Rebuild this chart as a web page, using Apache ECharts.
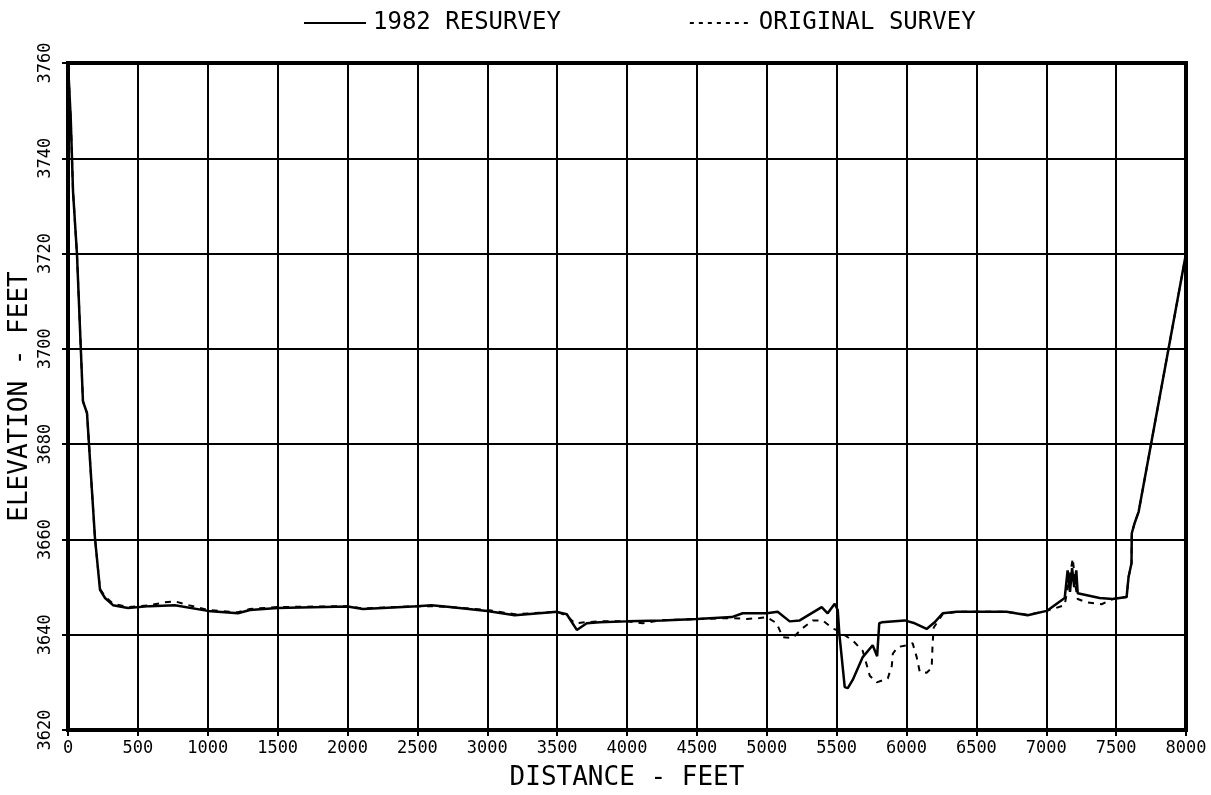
<!DOCTYPE html>
<html>
<head>
<meta charset="utf-8">
<script src="https://cdn.jsdelivr.net/npm/echarts@6/dist/echarts.min.js"></script>
<style>
html,body{margin:0;padding:0;background:#fff;}
#chart{width:1211px;height:795px;}
</style>
</head>
<body>
<div id="chart"></div>
<script>
const seriesNames = ['1982 RESURVEY', 'ORIGINAL SURVEY'];
const xTitle = 'DISTANCE - FEET';
const yTitle = 'ELEVATION - FEET';

const resurveyDist = [0,20,36,64,107,136,193,229,265,322,429,586,765,1000,1216,1302,1500,2000,2110,2500,2600,2733,3000,3197,3500,3569,3641,3712,3805,4000,4250,4500,4750,4828,5000,5078,5164,5236,5393,5436,5486,5508,5520,5558,5580,5615,5687,5758,5790,5805,5823,5987,6059,6144,6201,6259,6359,6488,6716,6867,7003,7132,7153,7170,7185,7200,7215,7225,7382,7475,7575,7589,7610,7612,7632,7661,8000];
const resurveyElev = [3760,3748,3733,3720,3689,3686.5,3660.3,3649.4,3647.7,3646.2,3645.6,3646,3646.2,3645,3644.5,3645.2,3645.6,3645.9,3645.4,3646,3646.2,3645.8,3645,3644.1,3644.8,3644.3,3641,3642.4,3642.6,3642.8,3643,3643.3,3643.7,3644.5,3644.5,3644.8,3642.8,3643,3645.8,3644.5,3646.5,3645.2,3640,3629,3628.8,3630.5,3635.3,3637.8,3635.5,3642.4,3642.6,3643,3642.4,3641.2,3642.6,3644.5,3644.8,3644.8,3644.8,3644.1,3645,3647.7,3653.5,3649,3654,3650,3653.5,3648.7,3647.7,3647.5,3647.9,3652.1,3655,3661.3,3663.4,3665.8,3720];

const originalDist = [0,20,36,64,107,136,193,229,265,322,429,586,694,765,850,1000,1216,1302,1500,2000,2110,2500,2600,2733,3000,3197,3500,3569,3627,3698,3805,4000,4113,4235,4500,4750,4857,4950,5000,5071,5114,5186,5257,5329,5400,5472,5500,5615,5687,5737,5787,5866,5895,5902,5937,6002,6044,6073,6095,6144,6180,6187,6195,6259,6359,6716,6867,7003,7132,7160,7190,7210,7225,7289,7396,7475,7575,7589,7610,7612,7632,7661,8000];
const originalElev = [3760,3748,3733,3720,3689,3686.5,3660.3,3649.6,3648,3646.5,3645.8,3646.2,3646.8,3647,3646.3,3645.2,3644.7,3645.4,3645.8,3646,3645.5,3646,3646,3645.8,3645.2,3644.3,3644.8,3644,3642.4,3642.6,3642.8,3642.8,3642.4,3643,3643.3,3643.5,3643.3,3643.5,3643.7,3642.4,3639.5,3639.3,3641.4,3643,3643,3641.3,3641,3638.8,3636.6,3631.4,3630,3630.8,3633.5,3636,3637.4,3637.8,3638.2,3635.3,3632.2,3632,3633,3638.2,3641.5,3644.3,3644.8,3644.8,3644.2,3645,3646.2,3651,3656,3650,3647.5,3646.8,3646.4,3647.5,3647.9,3652.1,3655,3661.3,3663.4,3665.8,3720];

const xMin = 0, xMax = 8000, xStep = 500;
const yMin = 3620, yMax = 3760, yStep = 20;

function zip(a, b) { return a.map((v, i) => [v, b[i]]); }

const FONT = '"DejaVu Sans Mono", "Liberation Mono", monospace';
const chart = echarts.init(document.getElementById('chart'), null, {renderer: 'canvas'});
chart.setOption({
  animation: false,
  backgroundColor: '#fff',
  legend: {
    left: 298, top: 6,
    itemWidth: 62, itemHeight: 14, itemGap: 128,
    itemStyle: {opacity: 0},
    textStyle: {fontFamily: FONT, fontSize: 24, color: '#000', padding: [0, 0, 0, 2]},
    data: [
      {name: seriesNames[0]},
      {name: seriesNames[1], lineStyle: {type: [4, 5], width: 2}}
    ]
  },
  grid: {left: 68, right: 25, top: 63, bottom: 65, containLabel: false, outerBoundsMode: 'none',
    show: true, borderColor: '#000', borderWidth: 4, backgroundColor: 'transparent'},
  xAxis: {
    type: 'value', min: xMin, max: xMax, interval: xStep,
    name: xTitle, nameLocation: 'middle', nameGap: 35,
    nameTextStyle: {fontFamily: FONT, fontSize: 26, color: '#000'},
    axisLine: {show: true, lineStyle: {color: '#000', width: 4}},
    axisTick: {show: true, length: 6, lineStyle: {color: '#000', width: 2}},
    axisLabel: {fontFamily: FONT, fontSize: 17, color: '#000', margin: 10, showMinLabel: true, showMaxLabel: true,
      formatter: v => String(v)},
    splitLine: {show: true, lineStyle: {color: '#000', width: 2}}
  },
  yAxis: {
    type: 'value', min: yMin, max: yMax, interval: yStep,
    name: yTitle, nameLocation: 'middle', nameGap: 35, nameMoveOverlap: false,
    nameTextStyle: {fontFamily: FONT, fontSize: 26, color: '#000'},
    axisLine: {show: true, lineStyle: {color: '#000', width: 4}},
    axisTick: {show: true, length: 6, lineStyle: {color: '#000', width: 2}},
    axisLabel: {fontFamily: FONT, fontSize: 17, color: '#000', rotate: 90, margin: 14, showMinLabel: true, showMaxLabel: true,
      formatter: v => String(v)},
    splitLine: {show: true, lineStyle: {color: '#000', width: 2}}
  },
  series: [
    {name: seriesNames[0], type: 'line', showSymbol: false, symbol: 'none', data: zip(resurveyDist, resurveyElev),
     lineStyle: {color: '#000', width: 2.5, type: 'solid'}, itemStyle: {color: '#000'}, z: 3},
    {name: seriesNames[1], type: 'line', showSymbol: false, symbol: 'none', data: zip(originalDist, originalElev),
     lineStyle: {color: '#000', width: 2, type: [6, 6]}, itemStyle: {color: '#000'}, z: 2}
  ]
});
</script>
</body>
</html>
